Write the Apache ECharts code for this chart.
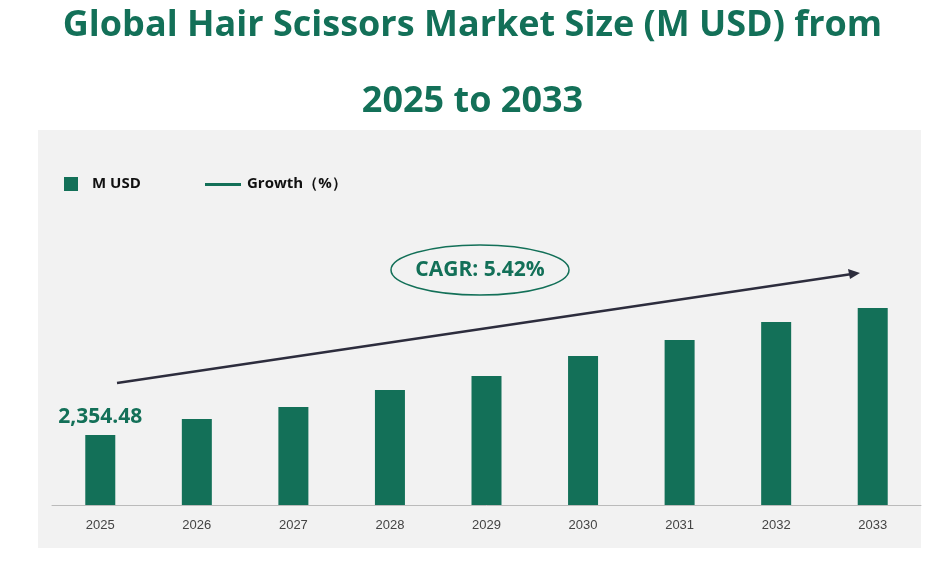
<!DOCTYPE html>
<html><head><meta charset="utf-8">
<script src="https://cdn.jsdelivr.net/npm/echarts@6/dist/echarts.min.js"></script>
<style>html,body{margin:0;padding:0;background:#fff}#c{width:945px;height:564px}</style>
</head><body><div id="c"></div>
<script>
const years = ['2025','2026','2027','2028','2029','2030','2031','2032','2033'];
const marketSize = [2354.48, 2510, 2627, 2793, 2930, 3125, 3281, 3456, 3593];
const titleLines = ['Global Hair Scissors Market Size (M USD) from', '2025 to 2033'];
const cagrText = 'CAGR: 5.42%';
const green = '#137058';
const chart = echarts.init(document.getElementById('c'));
chart.setOption({
  backgroundColor: '#fff',
  animation: false,
  title: {text: titleLines.join('\n\n'), left: 'center', top: 2,
    textStyle: {fontFamily: 'Open Sans', fontWeight: 'bold', fontSize: 36, color: green, lineHeight: 38}},
  grid: {left: 52, right: 24, top: 130, bottom: 59},
  xAxis: {type: 'category', data: years,
    axisLine: {lineStyle: {color: '#bbb'}}, axisTick: {show: false},
    axisLabel: {color: '#444', fontSize: 13, margin: 14, fontFamily: 'Liberation Sans'}},
  yAxis: {type: 'value', min: 1672, max: 5328, show: false, splitLine: {show: false}},
  series: [{type: 'bar', name: 'M USD', data: marketSize.map((v,i)=> i===0 ? {value:v, label:{show:true, position:'top', formatter: p=>p.value.toLocaleString('en-US',{minimumFractionDigits:2}), color: green, fontSize: 21, fontWeight:'bold', fontFamily:'Open Sans', offset:[0,-2]}} : v),
    barWidth: 30, itemStyle: {color: green}}],
  graphic: [
    {type:'rect', z:-10, shape:{x:38,y:130,width:883,height:418}, style:{fill:'#f2f2f2'}},
    {type:'rect', shape:{x:64,y:177,width:14,height:14}, style:{fill:green}},
    {type:'text', x:92, y:176, style:{text:'M USD', font:'bold 15px "Open Sans"', fill:'#111'}},
    {type:'rect', shape:{x:205,y:183,width:36,height:3}, style:{fill:green}},
    {type:'text', x:247, y:176, style:{text:'Growth（%）', font:'bold 15px "Open Sans"', fill:'#111'}},
    {type:'line', shape:{x1:117,y1:383,x2:852,y2:274}, style:{stroke:'#2d2d3d', lineWidth:2.5}},
    {type:'polygon', shape:{points:[[860,273],[848,269],[850,279]]}, style:{fill:'#2d2d3d'}},
    {type:'ellipse', shape:{cx:480,cy:270,rx:89,ry:25}, style:{fill:'none', stroke:green, lineWidth:1.5}},
    {type:'text', x:480, y:270, style:{text:cagrText, font:'bold 21px "Open Sans"', fill:green, align:'center', verticalAlign:'middle'}}
  ]
});
</script></body></html>
